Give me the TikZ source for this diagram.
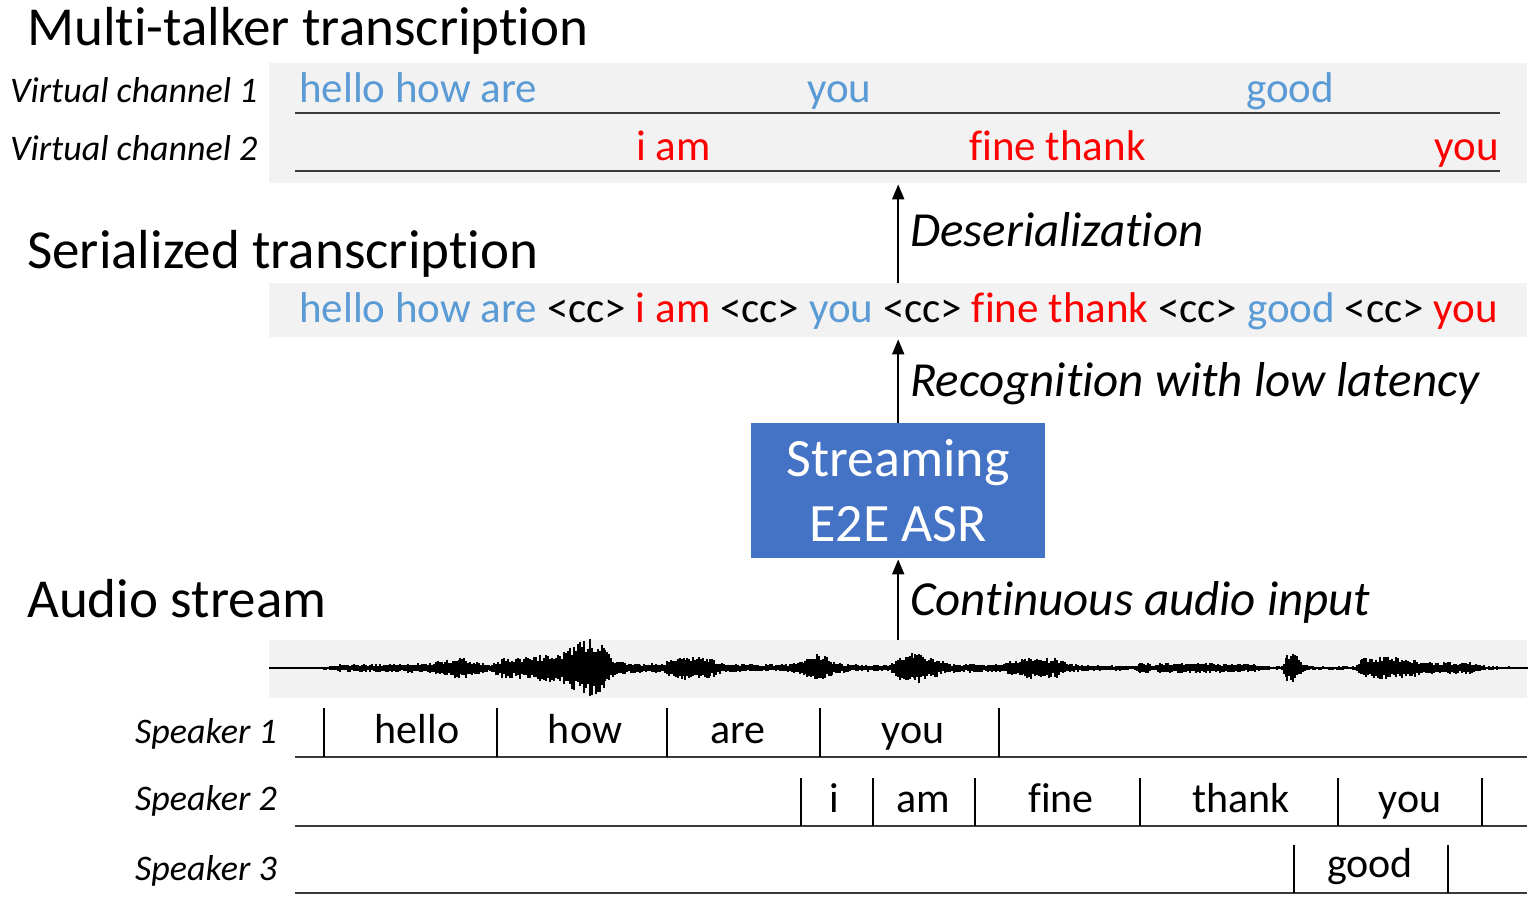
\documentclass[tikz,border=0pt]{standalone}
\usepackage{fontspec}
\setmainfont{Carlito}[Ligatures={NoCommon}]
\usetikzlibrary{arrows.meta}
\definecolor{cblue}{HTML}{5B9BD5}
\definecolor{cred}{HTML}{FF0000}
\definecolor{boxblue}{HTML}{4472C4}
\definecolor{lgray}{HTML}{F2F2F2}
\definecolor{lineg}{HTML}{3A3A3A}
\tikzset{
  graybox/.style={fill=lgray, draw=none, inner sep=0pt, anchor=north west},
  title/.style={font=\fontsize{55}{60}\selectfont, anchor=base west, inner sep=0pt},
  lab/.style={font=\fontsize{36}{40}\selectfont\itshape, anchor=base west, inner sep=0pt},
  steplab/.style={font=\fontsize{49}{54}\selectfont\itshape, anchor=base west, inner sep=0pt},
  vtxt/.style={font=\fontsize{43}{48}\selectfont, anchor=base west, inner sep=0pt},
  wtxt/.style={font=\fontsize{42}{48}\selectfont, anchor=base, inner sep=0pt},
  rowline/.style={draw=lineg, line width=2pt},
  tick/.style={draw=black, line width=1.5pt},
  arr/.style={draw=black, line width=2pt, -{Triangle[length=15pt,width=12pt]}},
  wave/.style={draw=black, line width=1.8pt},
}
\begin{document}
\begin{tikzpicture}[x=1pt, y=-1pt]
\useasboundingbox (0,0) rectangle (1538,900);
% titles
\node[title] (t1) at (27,45) {Multi-talker transcription};
\node[title] (t2) at (27,268) {Serialized transcription};
\node[title] (t3) at (27,617) {Audio stream};
% virtual channels
\node[graybox, minimum width=1258pt, minimum height=120pt] (vcbox) at (269,63) {};
\node[lab] (vc1) at (10,102) {Virtual channel 1};
\node[lab] (vc2) at (10,160) {Virtual channel 2};
\coordinate (l1a) at (295,113); \coordinate (l1b) at (1500,113);
\coordinate (l2a) at (295,171); \coordinate (l2b) at (1500,171);
\draw[rowline] (l1a) -- (l1b);
\draw[rowline] (l2a) -- (l2b);
\node[vtxt, text=cblue] (a1) at (299,102) {hello how are};
\node[vtxt, text=cblue] (a2) at (807,102) {you};
\node[vtxt, text=cblue] (a3) at (1246,102) {good};
\node[vtxt, text=cred] (b1) at (636,160) {i am};
\node[vtxt, text=cred] (b2) at (969,160) {fine thank};
\node[vtxt, text=cred, anchor=base east] (b3) at (1499,160) {you};
% serialized
\node[graybox, minimum width=1258pt, minimum height=54pt] (serbox) at (269,283) {};
\node[vtxt] (ser) at (299,322) {\color{cblue}hello how are \color{black}<cc> \color{cred}i am \color{black}<cc> \color{cblue}you \color{black}<cc> \color{cred}fine thank \color{black}<cc> \color{cblue}good \color{black}<cc> \color{cred}you};
% ASR box
\node[fill=boxblue, text=white, minimum width=294pt, minimum height=135pt, inner sep=0pt, anchor=north west, align=center, font=\fontsize{54}{65}\selectfont] (asr) at (751,423) {Streaming\\E2E ASR};
% waveform box
\node[graybox, minimum width=1258pt, minimum height=58pt] (wavebox) at (269,640) {};
% arrows
\draw[arr, shorten >=1pt] (asr.north |- serbox.north) -- (asr.north |- vcbox.south);
\draw[arr, shorten >=2pt] (asr.north) -- (asr.north |- serbox.south);
\draw[arr, shorten >=1pt] (asr.south |- wavebox.north) -- (asr.south);
\node[steplab] (d1) at (910,246) {Deserialization};
\node[steplab] (d2) at (910,396) {Recognition with low latency};
\node[steplab] (d3) at (910,615) {Continuous audio input};
% waveform
\coordinate (w0) at (269,668); \coordinate (w1) at (1527,668);
\draw[draw=black, line width=1.2pt] (w0) -- (w1);
\pgfmathsetseed{7}
\foreach \xa/\aa/\xb/\ab in {300/1/330/1.5, 330/1.5/340/3, 340/3/430/4.5, 430/4.5/445/7, 445/7/460/10, 460/10/475/6, 475/6/490/3, 490/3/502/8, 502/8/530/10, 530/10/560/13, 560/13/580/22, 580/22/590/26, 590/26/605/18, 605/18/615/6, 615/6/640/4, 640/4/665/4, 665/4/672/10, 672/10/685/12, 685/12/710/9, 710/9/722/4, 722/4/760/3, 760/3/790/4, 790/4/805/8, 805/8/819/14, 819/14/832/6, 832/6/850/3, 850/3/890/3, 890/3/900/10, 900/10/915/14, 915/14/935/8, 935/8/948/4, 948/4/1000/3.5, 1000/3.5/1010/6, 1010/6/1025/9, 1025/9/1055/9, 1055/9/1068/4, 1068/4/1090/2.5, 1090/2.5/1135/2, 1135/2/1140/5, 1140/5/1148/5, 1148/5/1152/2, 1152/2/1160/4.5, 1160/4.5/1200/4.5, 1200/4.5/1255/3.5, 1255/3.5/1265/1.5, 1265/1.5/1282/2, 1282/2/1287/11, 1287/11/1295/13, 1295/13/1303/3, 1303/3/1315/1.5, 1315/1.5/1355/1.5, 1355/1.5/1362/9, 1362/9/1390/10, 1390/10/1415/8, 1415/8/1422/5, 1422/5/1470/5, 1470/5/1485/2, 1485/2/1527/1}{
  \pgfmathsetmacro\xs{\xa+2}
  \foreach \x in {\xa,\xs,...,\xb}{
    \pgfmathsetmacro\am{\aa+(\ab-\aa)*(\x-\xa)/(\xb-\xa)}
    \pgfmathsetmacro\up{\am*(0.6+0.6*rnd)}
    \pgfmathsetmacro\dn{\am*(0.6+0.6*rnd)}
    \draw[wave] (\x,668-\up) -- (\x,668+\dn);
  }
}
% speakers
\node[lab] (s1) at (135,743) {Speaker 1};
\node[lab] (s2) at (135,810) {Speaker 2};
\node[lab] (s3) at (135,880) {Speaker 3};
\coordinate (r1a) at (295,757); \coordinate (r1b) at (1527,757);
\coordinate (r2a) at (295,826); \coordinate (r2b) at (1527,826);
\coordinate (r3a) at (295,893); \coordinate (r3b) at (1527,893);
\draw[rowline] (r1a) -- (r1b);
\draw[rowline] (r2a) -- (r2b);
\draw[rowline] (r3a) -- (r3b);
\foreach \t in {324,497,667,820,999} {\draw[tick] (\t,708) -- (\t,757);}
\foreach \t in {801,873,975,1140,1338,1482} {\draw[tick] (\t,778) -- (\t,826);}
\foreach \t in {1294,1448} {\draw[tick] (\t,845) -- (\t,893);}
\node[wtxt] (w11) at (417,743) {hello};
\node[wtxt] (w12) at (585,743) {how};
\node[wtxt] (w13) at (738,743) {are};
\node[wtxt] (w14) at (913,743) {you};
\node[wtxt] (w21) at (834,812) {i};
\node[wtxt] (w22) at (923,812) {am};
\node[wtxt] (w23) at (1061,812) {fine};
\node[wtxt] (w24) at (1241,812) {thank};
\node[wtxt] (w25) at (1410,812) {you};
\node[wtxt] (w31) at (1370,877) {good};
\end{tikzpicture}
\end{document}
